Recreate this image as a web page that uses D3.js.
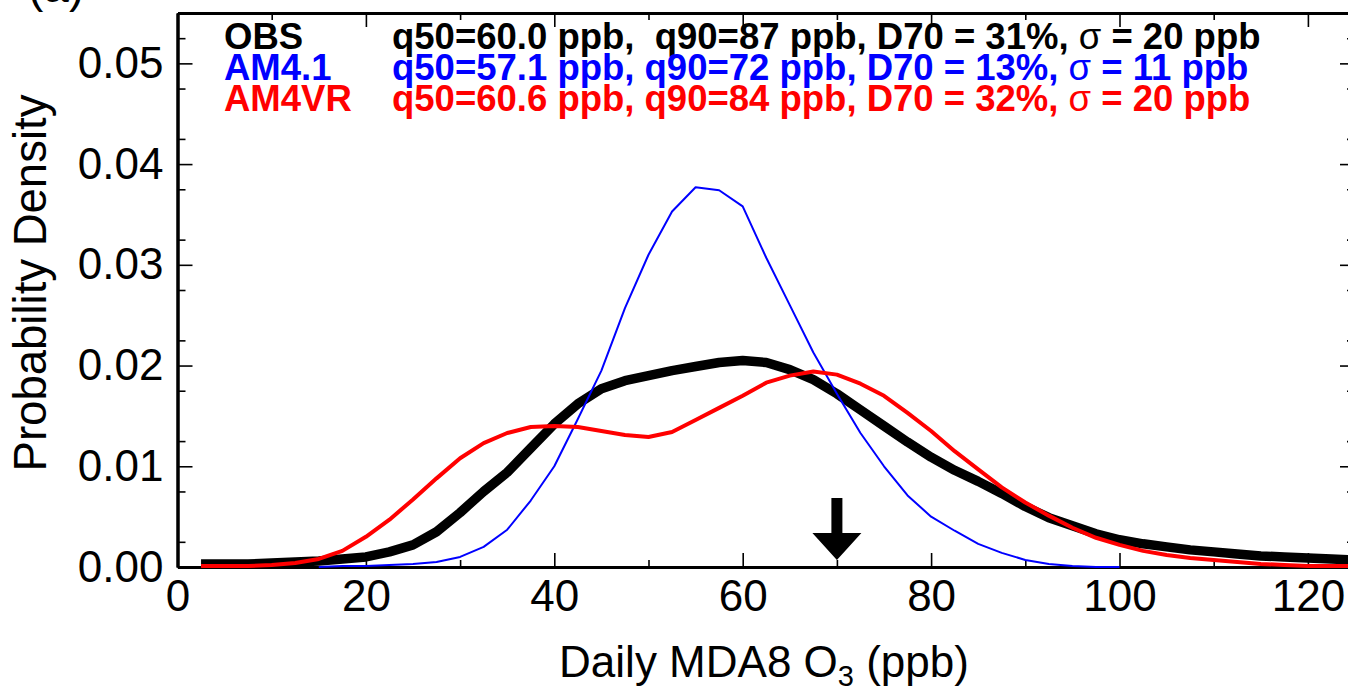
<!DOCTYPE html>
<html>
<head>
<meta charset="utf-8">
<script src="https://cdn.jsdelivr.net/npm/d3@7"></script>
<style>
body { margin: 0; background: #fff; }
svg { display: block; font-family: "Liberation Sans", Arial, Helvetica, sans-serif; }
</style>
</head>
<body>
<svg id="chart" width="1348" height="686"></svg>
<script>
// ozone bins (ppb) and probability densities
const o3Bins = [2.5, 5, 7.5, 10, 12.5, 15, 17.5, 20, 22.5, 25, 27.5, 30, 32.5, 35, 37.5, 40,
	42.5, 45, 47.5, 50, 52.5, 55, 57.5, 60, 62.5, 65, 67.5, 70, 72.5, 75, 77.5, 80,
	82.5, 85, 87.5, 90, 92.5, 95, 97.5, 100, 102.5, 105, 107.5, 110, 112.5, 115, 117.5, 120, 122.5, 125];

const obsDensity = [0.0003, 0.0003, 0.0003, 0.0004, 0.0005, 0.0006, 0.0008, 0.0010, 0.0015, 0.0022,
	0.0035, 0.0054, 0.0075, 0.0094, 0.0118, 0.0142, 0.0162, 0.0177, 0.0185, 0.0190,
	0.0195, 0.0199, 0.0203, 0.0205, 0.0203, 0.0196, 0.0186, 0.0172, 0.0156, 0.0140,
	0.0124, 0.0109, 0.0096, 0.0085, 0.0073, 0.0060, 0.0049, 0.0041, 0.0033, 0.0027,
	0.0023, 0.0020, 0.0017, 0.0015, 0.0013, 0.0011, 0.0010, 0.0009, 0.0008, 0.0007];

const am41Density = [null, null, null, null, null, 0.0000, 0.0001, 0.0001, 0.0002, 0.0003,
	0.0005, 0.0010, 0.0020, 0.0037, 0.0066, 0.0100, 0.0147, 0.0195, 0.0257, 0.0310,
	0.0353, 0.0377, 0.0374, 0.0358, 0.0307, 0.0260, 0.0213, 0.0172, 0.0133, 0.0100,
	0.0071, 0.0050, 0.0036, 0.0023, 0.0014, 0.0007, 0.0003, 0.0001, 0.0000, 0.0000,
	null, null, null, null, null, null, null, null, null, null];

const am4vrDensity = [0.0001, 0.0001, 0.0001, 0.0002, 0.0004, 0.0008, 0.0016, 0.0030, 0.0047, 0.0067,
	0.0088, 0.0108, 0.0123, 0.0133, 0.0139, 0.0140, 0.0139, 0.0135, 0.0131, 0.0129,
	0.0134, 0.0146, 0.0158, 0.0170, 0.0183, 0.0190, 0.0194, 0.0191, 0.0182, 0.0170,
	0.0153, 0.0135, 0.0115, 0.0097, 0.0079, 0.0064, 0.0051, 0.0039, 0.0029, 0.0022,
	0.0016, 0.0012, 0.0009, 0.0007, 0.0005, 0.0003, 0.0002, 0.0001, 0.0001, 0.0001];

const seriesNames = ["OBS", "AM4.1", "AM4VR"];
const seriesColors = ["#000000", "#0000ff", "#ff0000"];
const seriesWidths = [9.5, 2, 4];
const statsText = [
	"q50=60.0 ppb,  q90=87 ppb, D70 = 31%, \u03c3 = 20 ppb",
	"q50=57.1 ppb, q90=72 ppb, D70 = 13%, \u03c3 = 11 ppb",
	"q50=60.6 ppb, q90=84 ppb, D70 = 32%, \u03c3 = 20 ppb"
];

const xTicks = [0, 20, 40, 60, 80, 100, 120];
const xMinorTicks = [10, 30, 50, 70, 90, 110];
const yTicks = [0.00, 0.01, 0.02, 0.03, 0.04, 0.05];
const yMinorTicks = [0.0025, 0.0075, 0.0125, 0.0175, 0.0225, 0.0275, 0.0325, 0.0375, 0.0425, 0.0475, 0.0525];
const d70Threshold = 70;

//--------------------------------- chart ---------------------------------

function drawChart(){
	var svg = d3.select("#chart");
	var plotLeft = 177.5, plotRight = 1355, plotTop = 13, plotBottom = 567;

	var x = d3.scaleLinear().domain([0, 125]).range([plotLeft, plotRight]);
	var y = d3.scaleLinear().domain([0, 0.055]).range([plotBottom, plotTop]);

	svg.append("rect").attr("width", 1348).attr("height", 686).attr("fill", "#fff");

	// panel label, cut off at the top
	svg.append("text")
		.attr("x", 28).attr("y", 2)
		.attr("font-size", 46)
		.text("(a)");

	function styleAxis(g){
		g.select(".domain").attr("stroke-width", 3).attr("stroke", "#000");
		g.selectAll(".tick line").attr("stroke-width", 1.6).attr("stroke", "#000");
		g.selectAll(".tick text").attr("font-size", 44).attr("fill", "#000");
		g.attr("font-family", null);
	}

	// bottom
	svg.append("g").attr("transform", "translate(0," + plotBottom + ")")
		.call(d3.axisBottom(x).tickValues(xMinorTicks).tickSize(-7).tickSizeOuter(0).tickFormat(""))
		.call(styleAxis);
	svg.append("g").attr("transform", "translate(0," + plotBottom + ")")
		.call(d3.axisBottom(x).tickValues(xTicks).tickSize(-14).tickSizeOuter(0).tickPadding(13))
		.call(styleAxis);
	// top
	svg.append("g").attr("transform", "translate(0," + plotTop + ")")
		.call(d3.axisTop(x).tickValues(xMinorTicks).tickSize(-7).tickSizeOuter(0).tickFormat(""))
		.call(styleAxis);
	svg.append("g").attr("transform", "translate(0," + plotTop + ")")
		.call(d3.axisTop(x).tickValues(xTicks).tickSize(-14).tickSizeOuter(0).tickFormat(""))
		.call(styleAxis);
	// left
	svg.append("g").attr("transform", "translate(" + plotLeft + ",0)")
		.call(d3.axisLeft(y).tickValues(yMinorTicks).tickSize(-8).tickSizeOuter(0).tickFormat(""))
		.call(styleAxis);
	svg.append("g").attr("transform", "translate(" + plotLeft + ",0)")
		.call(d3.axisLeft(y).tickValues(yTicks).tickSize(-15).tickSizeOuter(0).tickPadding(14).tickFormat(d3.format(".2f")))
		.call(styleAxis);
	// right
	svg.append("g").attr("transform", "translate(" + plotRight + ",0)")
		.call(d3.axisRight(y).tickValues(yMinorTicks).tickSize(-8).tickSizeOuter(0).tickFormat(""))
		.call(styleAxis);
	svg.append("g").attr("transform", "translate(" + plotRight + ",0)")
		.call(d3.axisRight(y).tickValues(yTicks).tickSize(-15).tickSizeOuter(0).tickFormat(""))
		.call(styleAxis);

	// axis titles
	svg.append("text")
		.attr("transform", "translate(46," + ((plotTop + plotBottom) / 2 - 7) + ") rotate(-90)")
		.attr("text-anchor", "middle")
		.attr("font-size", 45.5)
		.text("Probability Density");

	var xTitle = svg.append("text")
		.attr("x", 764).attr("y", 677)
		.attr("text-anchor", "middle")
		.attr("font-size", 44);
	xTitle.append("tspan").text("Daily MDA8 O");
	xTitle.append("tspan").attr("font-size", 29).attr("dy", 9).text("3");
	xTitle.append("tspan").attr("dy", -9).text(" (ppb)");

	// curves
	var line = d3.line()
		.defined(function(d) { return d.v != null; })
		.x(function(d) { return x(d.o3); })
		.y(function(d) { return y(d.v); });

	var allSeries = [obsDensity, am41Density, am4vrDensity];
	allSeries.forEach(function(values, i){
		var data = o3Bins.map(function(b, j){ return {o3: b, v: values[j]}; });
		svg.append("path")
			.datum(data)
			.attr("fill", "none")
			.attr("stroke", seriesColors[i])
			.attr("stroke-width", seriesWidths[i])
			.attr("stroke-linejoin", "round")
			.attr("d", line);
	});

	// D70 arrow
	var ax = x(d70Threshold);
	var tip = plotBottom - 7;
	svg.append("path")
		.attr("fill", "#000")
		.attr("d", "M" + (ax - 5.5) + "," + (tip - 62) +
			"L" + (ax + 5.5) + "," + (tip - 62) +
			"L" + (ax + 5.5) + "," + (tip - 27) +
			"L" + (ax + 24.5) + "," + (tip - 27) +
			"L" + ax + "," + tip +
			"L" + (ax - 24.5) + "," + (tip - 27) +
			"L" + (ax - 5.5) + "," + (tip - 27) + "Z");

	// legend
	seriesNames.forEach(function(name, i){
		var yy = 49 + i * 31;
		svg.append("text")
			.attr("x", 224).attr("y", yy)
			.attr("font-size", 36.5).attr("font-weight", "bold")
			.attr("fill", seriesColors[i])
			.text(name);
		var t = svg.append("text")
			.attr("x", 392).attr("y", yy)
			.attr("font-size", 36.5).attr("font-weight", "bold")
			.attr("fill", seriesColors[i])
			.style("white-space", "pre");
		var parts = statsText[i].split("\u03c3");
		t.append("tspan").text(parts[0]);
		t.append("tspan").attr("font-weight", "normal").text("\u03c3");
		t.append("tspan").text(parts[1]);
	});
}

drawChart();
</script>
</body>
</html>
